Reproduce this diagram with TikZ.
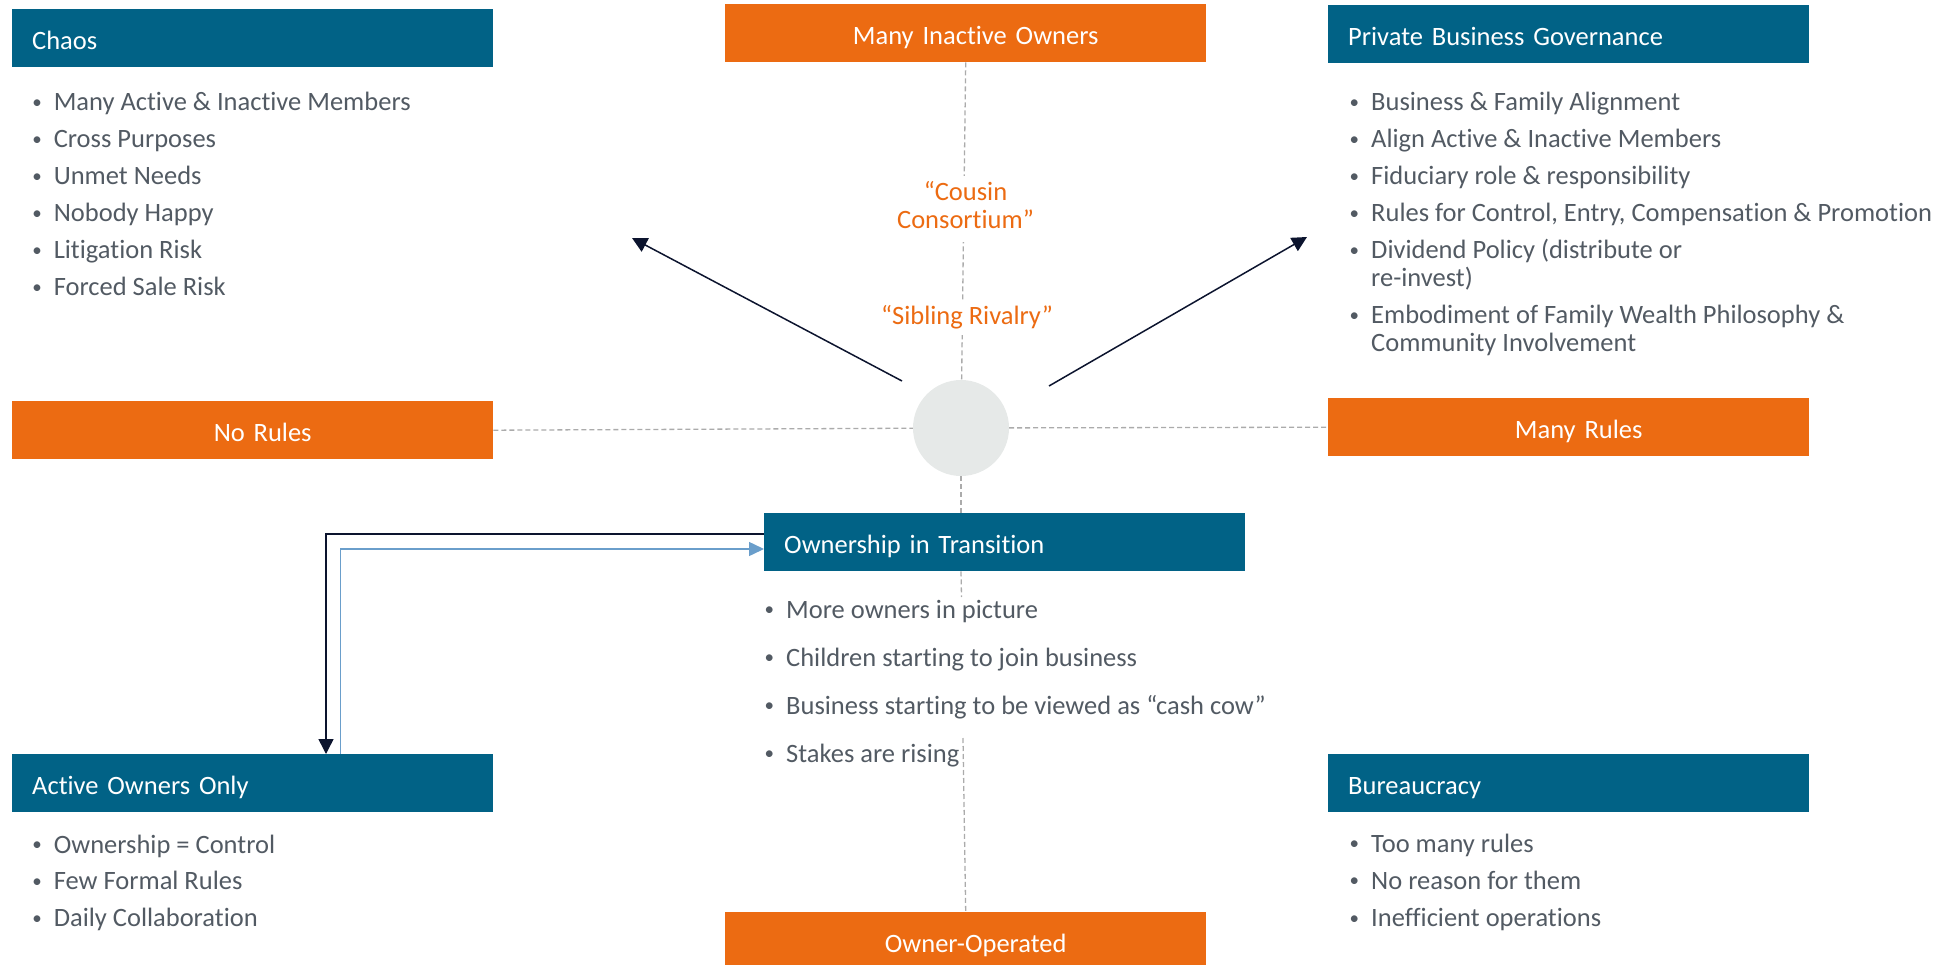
\documentclass[tikz,border=0pt]{standalone}
\usepackage{fontspec}
\setmainfont{Carlito}[Ligatures={NoCommon}]
\usetikzlibrary{arrows.meta,backgrounds}
\definecolor{hdrblue}{HTML}{016286}
\definecolor{orng}{HTML}{EC6B12}
\definecolor{txtgray}{HTML}{525A63}
\definecolor{hubgray}{HTML}{E6E9E8}
\definecolor{dashgray}{HTML}{ABABAB}
\definecolor{arrnavy}{HTML}{0C142E}
\definecolor{arrblue}{HTML}{6A9ECB}
\newlength\bw \setlength\bw{23pt}
\newcommand\blist[3]{\vtop{\hsize=#1\relax\parindent=0pt\parskip=#2\relax
  \leftskip=0pt\rightskip=0pt plus 1fil\parfillskip=0pt plus 1fil
  \baselineskip=28pt\lineskip=1pt\lineskiplimit=0pt #3\par}}
\newcommand\sbul{\raisebox{2.6pt}{\fontsize{19}{19}\selectfont\textbullet}}
\newcommand\bitem[1]{\par\hangindent=\bw\hangafter=1\noindent\makebox[\bw][l]{\hspace{1.5pt}\sbul}#1}
\begin{document}
\begin{tikzpicture}[x=1pt,y=-1pt,
  every node/.style={font=\fontsize{26.5}{28}\selectfont},
  hdr/.style={anchor=north west, fill=hdrblue, text=white, minimum width=481pt,
    minimum height=58pt, inner xsep=20pt, inner ysep=0pt, text width=441pt,
    align=left, text height=22pt, text depth=0pt},
  obox/.style={hdr, fill=orng, align=center},
  dashln/.style={draw=dashgray, line width=1.3pt, dash pattern=on 5pt off 3pt},
  blkarr/.style={draw=arrnavy, line width=1.5pt, -{Triangle[length=15pt,width=15pt]}},
  bluarr/.style={draw=arrblue, line width=1.5pt, -{Triangle[length=15pt,width=14pt]}},
  lst/.style={anchor=base west, inner sep=0pt, text=txtgray},
  lbl/.style={text=orng, fill=white, inner xsep=4pt, inner ysep=5pt, anchor=base}
]
\useasboundingbox (0,0) rectangle (1959,965);

% boxes
\node[hdr] (chaos) at (12,9) {Chaos};
\node[obox] (top) at (725,4) {\hspace*{20pt}Many Inactive Owners};
\node[hdr] (pbg) at (1328,5) {Private Business Governance};
\node[obox] (nr) at (12,401) {\hspace*{20pt}No Rules};
\node[obox] (mr) at (1328,398) {\hspace*{20pt}Many Rules};
\node[hdr] (oit) at (764,513) {Ownership in Transition};
\node[hdr] (ao) at (12,754) {Active Owners Only};
\node[hdr] (bur) at (1328,754) {Bureaucracy};
\node[obox] (bot) at (725,912) {\hspace*{20pt}Owner-Operated};
\node[circle, fill=hubgray, minimum size=96pt, inner sep=0pt] (hub) at (961,428) {};

% bullet lists
\node[lst] (chaosl) at (30.6,110.7) {\blist{440pt}{9pt}{%
  \bitem{Many Active \& Inactive Members}\bitem{Cross Purposes}\bitem{Unmet Needs}%
  \bitem{Nobody Happy}\bitem{Litigation Risk}\bitem{Forced Sale Risk}}};
\node[lst] (pbgl) at (1348,111) {\blist{600pt}{9pt}{%
  \bitem{Business \& Family Alignment}\bitem{Align Active \& Inactive Members}%
  \bitem{Fiduciary role \& responsibility}%
  \bitem{Rules for Control, Entry, Compensation \& Promotion}%
  \bitem{Dividend Policy (distribute or\\re-invest)}%
  \bitem{Embodiment of Family Wealth Philosophy \&\\Community Involvement}}};
\node[lst] (oitl) at (763,618) {\blist{520pt}{20pt}{%
  \bitem{More owners in picture}\bitem{Children starting to join business}%
  \bitem{Business starting to be viewed as “cash cow”}\bitem{Stakes are rising}}};
\node[lst] (aol) at (30.6,853) {\blist{440pt}{8.8pt}{%
  \bitem{Ownership = Control}\bitem{Few Formal Rules}\bitem{Daily Collaboration}}};
\node[lst] (burl) at (1348,852) {\blist{440pt}{9.4pt}{%
  \bitem{Too many rules}\bitem{No reason for them}\bitem{Inefficient operations}}};

% coordinates
\coordinate (g1) at (961.5,597);
\coordinate (g2) at (963,738);
\coordinate (l1) at (902,381);
\coordinate (l2) at (632,238);
\coordinate (r1) at (1049,386);
\coordinate (r2) at (1307,237);

% dashed axes
\begin{scope}[on background layer]
\draw[dashln] (top.south) -- (hub);
\draw[dashln] (nr.east) -- (hub);
\draw[dashln] (hub) -- (mr.west);
\draw[dashln] (hub) -- (hub |- oit.north);
\draw[dashln] (hub |- oit.south) -- (g1);
\draw[dashln] (g2) -- (bot.north);
\end{scope}

% orange labels
\node[lbl] (cousin) at (965.5,201) {\begin{tabular}[t]{@{}c@{}}“Cousin\\Consortium”\end{tabular}};
\node[lbl] (sib) at (967,325) {“Sibling Rivalry”};

% arrows
\draw[blkarr] (l1) -- (l2);
\draw[blkarr] (r1) -- (r2);
\draw[blkarr] ([yshift=-21pt]oit.north west) -| ([xshift=314pt]ao.north west);
\draw[bluarr] ([xshift=328.7pt]ao.north west) |- ([yshift=-36pt]oit.north west);
\end{tikzpicture}
\end{document}
